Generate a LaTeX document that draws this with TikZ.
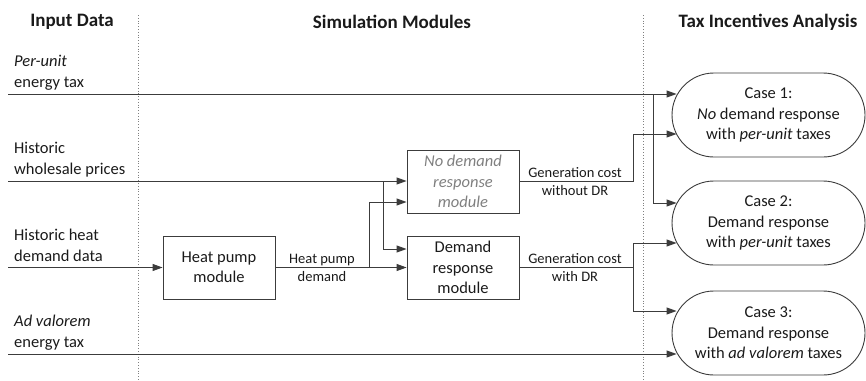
\documentclass[tikz,border=0pt]{standalone}
\usepackage{fontspec}
\setmainfont{Carlito}
\usetikzlibrary{arrows.meta,shapes.misc,calc}
\definecolor{ink}{HTML}{1A1A1A}
\definecolor{wirecol}{HTML}{3C3C3C}
\definecolor{faded}{HTML}{808080}
\begin{document}
\begin{tikzpicture}[x=1pt,y=-1pt,
  every node/.style={font=\fontsize{16.5}{20.5}\selectfont, text=ink},
  wire/.style={draw=wirecol, line width=0.9pt},
  arr/.style={wire, -{Triangle[length=10pt,width=7pt]}},
  header/.style={font=\fontsize{19}{22}\selectfont\bfseries},
  src/.style={anchor=base west, align=left, inner sep=0pt},
  module/.style={draw=wirecol, line width=0.9pt, minimum width=112pt, minimum height=63pt, align=center, inner sep=0pt},
  case/.style={rounded rectangle, draw=wirecol, line width=0.9pt, minimum width=193pt, minimum height=84pt, align=center, inner sep=0pt},
  flowlabel/.style={anchor=base, align=center, inner sep=0pt, font=\fontsize{14.5}{18}\selectfont},
  divider/.style={draw=gray, dotted, line width=0.8pt}
]
\useasboundingbox (0,0) rectangle (866,380);

% column dividers
\draw[divider] (138,15) -- (138,380);
\draw[divider] (643,15) -- (643,380);

% column headers
\node[header] (hin)  at (72,22)  {Input Data};
\node[header] (hsim) at (392,22) {Simulation Modules};
\node[header] (htax) at (768,22) {Tax Incentives Analysis};

% input data (anchored on the baseline of the last line)
\node[src] (tax1)  at (14,87)  {\textit{Per-unit}\\energy tax};
\node[src] (whole) at (14,174) {Historic\\wholesale prices};
\node[src] (heat)  at (14,261) {Historic heat\\demand data};
\node[src] (tax2)  at (14,347) {\textit{Ad valorem}\\energy tax};

\coordinate (s1) at (8,94);
\coordinate (s2) at (8,181);
\coordinate (s3) at (8,267.5);
\coordinate (s4) at (8,354);

% simulation modules
\node[module] (hp) at (219,267.5) {Heat pump\\module};
\node[module, text=faded] (nodr) at (463,181.5) {\textit{No demand}\\\textit{response}\\\textit{module}};
\node[module] (dr) at (463,267.5) {Demand\\response\\module};

% tax incentive cases
\node[case] (c1) at (768.5,115) {Case 1:\\\textit{No} demand response\\with \textit{per-unit} taxes};
\node[case] (c2) at (768.5,223) {Case 2:\\Demand response\\with \textit{per-unit} taxes};
\node[case] (c3) at (768.5,333) {Case 3:\\Demand response\\with \textit{ad valorem} taxes};

% junctions
\coordinate (j1) at (653,94);
\coordinate (j2) at (383,181);
\coordinate (j3) at (369,267.5);
\coordinate (j4) at (633,181.5);
\coordinate (j5) at (633,267.5);

% per-unit energy tax
\draw[arr] (s1) -- ($(s1 -| c1.west)+(5,0)$);
\draw[arr] (j1) |- ($(c2.west)+(5,-20)$);

% wholesale prices
\draw[wire] (s2) -- (j2);
\draw[arr] (j2) -- (j2 -| nodr.west);
\draw[arr] (j2) |- ($(dr.west)+(0,-18.5)$);

% heat demand
\draw[arr] (s3) -- (hp.west);
\draw[arr] (hp.east) -- (dr.west);
\draw[arr] (j3) |- ($(nodr.west)+(0,20.5)$);
\node[flowlabel] (hpd) at (322,281.5) {Heat pump\\demand};

% generation cost without DR
\draw[wire] (nodr.east) -- (j4);
\draw[arr] (j4) |- ($(c1.west)+(5,19)$);
\node[flowlabel] (gnodr) at (575,195.5) {Generation cost\\without DR};

% generation cost with DR
\draw[wire] (dr.east) -- (j5);
\draw[arr] (j5) |- ($(c2.west)+(5,20)$);
\draw[arr] (j5) |- ($(c3.west)+(5,-22)$);
\node[flowlabel] (gdr) at (575,281.5) {Generation cost\\with DR};

% ad valorem energy tax
\draw[arr] (s4) -- ($(s4 -| c3.west)+(5,0)$);
\end{tikzpicture}
\end{document}
